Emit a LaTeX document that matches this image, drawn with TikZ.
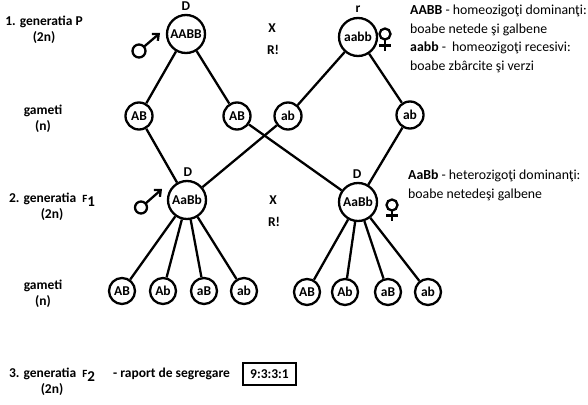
\documentclass[tikz,border=0pt]{standalone}
\usepackage{fontspec}
\setmainfont{Carlito}
\usetikzlibrary{arrows.meta,calc}
\begin{document}
\begin{tikzpicture}[x=1pt,y=-1pt,
  big/.style={circle,draw,line width=2.3pt,minimum size=38pt,inner sep=0pt,font=\fontsize{13.5}{14}\selectfont\bfseries},
  gam/.style={circle,draw,line width=2.3pt,minimum size=27pt,inner sep=0pt,font=\fontsize{13.5}{14}\selectfont\bfseries},
  gamb/.style={circle,draw,line width=2.3pt,minimum size=26pt,inner sep=0pt,font=\fontsize{13.5}{14}\selectfont\bfseries},
  lbl/.style={font=\fontsize{13.5}{16}\selectfont\bfseries,align=center,inner sep=0pt},
  txt/.style={font=\fontsize{13.8}{18.6}\selectfont,align=left,inner sep=0pt,anchor=north west},
  conn/.style={line width=2.3pt},
  sym/.style={line width=2.3pt}]
\useasboundingbox (0,0) rectangle (588,404);
% left labels
\node[lbl] (l1) at (44,30) {1. generatia P\\(2n)};
\node[lbl] (l2) at (43,119) {gameti\\(n)};
\node[lbl] (l3) at (52,207) {2. generatia \ {\fontsize{11}{12}\selectfont F}\raisebox{-3.5pt}{\fontsize{15}{14}\selectfont 1}\\(2n)};
\node[lbl] (l4) at (43,294) {gameti\\(n)};
\node[lbl] (l5) at (52,382) {3. generatia \ {\fontsize{11}{12}\selectfont F}\raisebox{-3.5pt}{\fontsize{15}{14}\selectfont 2}\\(2n)};
\node[font=\fontsize{13.5}{14}\selectfont\bfseries,anchor=west,inner sep=0pt] (rap) at (113,374) {- raport de segregare};
\node[draw,line width=2.3pt,minimum width=53pt,minimum height=22pt,inner sep=0pt,font=\fontsize{13.5}{14}\selectfont\bfseries] (ratio) at (269.5,374) {9:3:3:1};
% X and R!
\node[lbl] (x1) at (272,28) {X};
\node[lbl] (r1) at (273,50) {R!};
\node[lbl] (x2) at (273,200) {X};
\node[lbl] (r2) at (274,222) {R!};
% parents
\node[big] (P1) at (186,34) {AABB};
\node[big] (P2) at (358,37) {aabb};
\node[lbl] (d1) at (186,6) {D};
\node[lbl] (rr) at (358,9) {r};
% gametes
\node[gam] (g1) at (139,116) {AB};
\node[gam] (g2) at (237,116) {AB};
\node[gam] (g3) at (288,116) {ab};
\node[gam] (g4) at (410,115) {ab};
% F1
\node[big] (F1) at (187,200) {AaBb};
\node[big] (F2) at (358,202) {AaBb};
\node[lbl] (d2) at (188,172) {D};
\node[lbl] (d3) at (357,174) {D};
% bottom gametes
\node[gamb] (b1) at (122,291) {AB};
\node[gamb] (b2) at (163,291) {Ab};
\node[gamb] (b3) at (204,291) {aB};
\node[gamb] (b4) at (244,291) {ab};
\node[gamb] (b5) at (307,292) {AB};
\node[gamb] (b6) at (345,292) {Ab};
\node[gamb] (b7) at (388,292) {aB};
\node[gamb] (b8) at (428,292) {ab};
% connectors
\draw[conn] (P1) -- (g1);
\draw[conn] (P1) -- (g2);
\draw[conn] (P2) -- (g3);
\draw[conn] (P2) -- (g4);
\draw[conn] (g1) -- (F1);
\draw[conn] (g3) -- (F1);
\draw[conn] (g2) -- (F2);
\draw[conn] (g4) -- (F2);
\foreach \b in {b1,b2,b3,b4} \draw[conn] (F1) -- (\b);
\foreach \b in {b5,b6,b7,b8} \draw[conn] (F2) -- (\b);
% male symbols
\coordinate (m1) at (139,51);
\coordinate (m1t) at (160,33);
\draw[sym] (m1) circle (6.5pt);
\draw[sym,-{Straight Barb[length=5pt,width=9pt]}] ($(m1)!6.5pt!(m1t)$) -- (m1t);
\coordinate (m2) at (141,207.5);
\coordinate (m2t) at (162,189);
\draw[sym] (m2) circle (6pt);
\draw[sym,-{Straight Barb[length=5pt,width=9pt]}] ($(m2)!6pt!(m2t)$) -- (m2t);
% female symbols
\coordinate (f1) at (385,34);
\draw[sym] (f1) circle (5.5pt);
\draw[sym] (385,39.5) -- (385,51);
\draw[sym] (379,45.5) -- (391,45.5);
\coordinate (f2) at (392,205);
\draw[sym] (f2) circle (5.5pt);
\draw[sym] (392,210.5) -- (392,221);
\draw[sym] (386,215.5) -- (398,215.5);
% texts
\node[txt] (t1) at (410,5) {\textbf{AABB} - homeozigoţi dominanţi:\\boabe netede şi galbene\\\textbf{aabb} - \ homeozigoţi recesivi:\\boabe zbârcite şi verzi};
\node[txt] (t2) at (408,170) {\textbf{AaBb} - heterozigoţi dominanţi:\\boabe netedeşi galbene};
\end{tikzpicture}
\end{document}
